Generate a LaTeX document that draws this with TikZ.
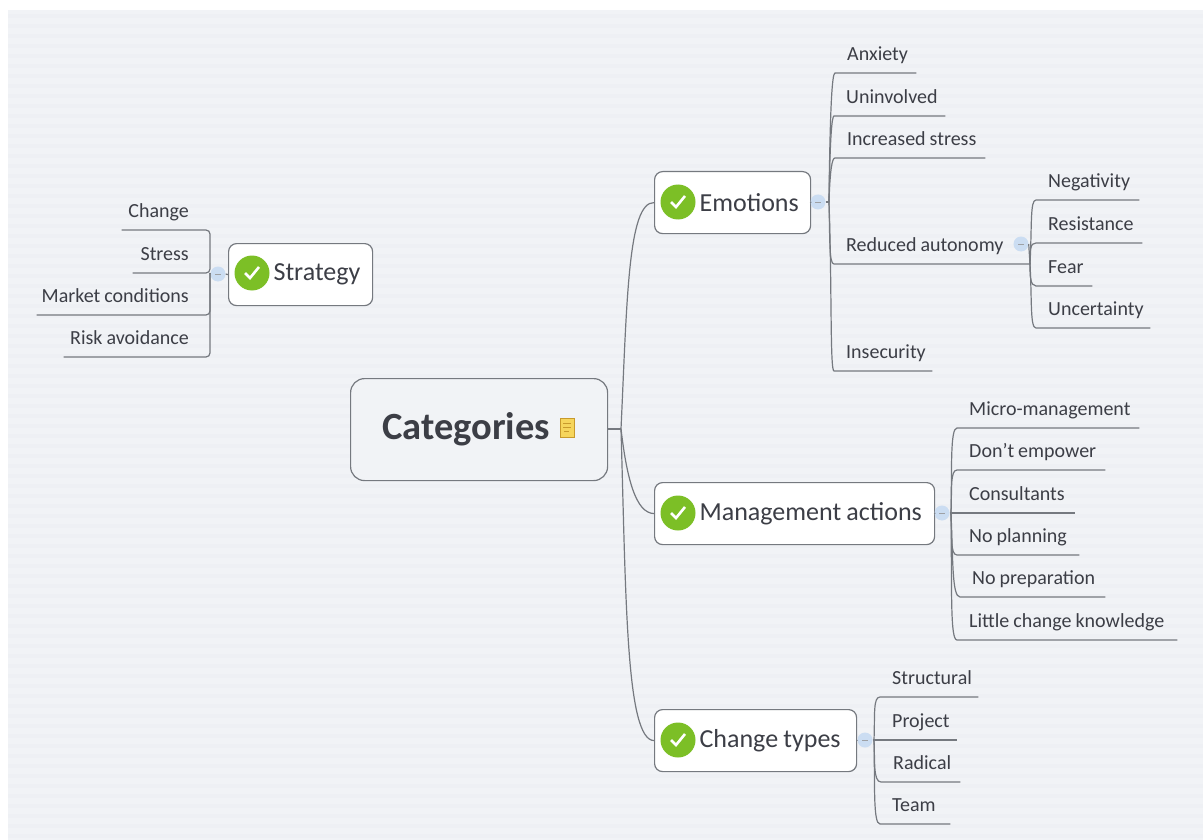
\documentclass[tikz,border=0pt]{standalone}
\usepackage{fontspec}
\setmainfont{Carlito}
\usepackage{xcolor}
\definecolor{backdrop}{HTML}{F1F3F6}
\definecolor{stripe}{HTML}{EEF0F4}
\definecolor{linegray}{HTML}{75797F}
\definecolor{inkgray}{HTML}{3C3E46}
\definecolor{okgreen}{HTML}{7CBF26}
\definecolor{hubblue}{HTML}{CBDDF2}
\definecolor{noteyellow}{HTML}{F6D55C}
\definecolor{noteedge}{HTML}{C89A2C}
\newcommand{\tightwords}{\spaceskip=0.2em\relax\hyphenpenalty=10000\exhyphenpenalty=10000\relax}
\tikzset{
  branch/.style={draw=linegray,line width=1.2pt,rounded corners=0pt},
  rootbox/.style={draw=linegray,line width=1.2pt,rounded corners=14pt,fill=backdrop,minimum width=257pt,minimum height=102pt,inner sep=0pt,anchor=north west},
  topicbox/.style={draw=linegray,line width=1.2pt,rounded corners=8pt,fill=white,minimum height=62pt,text width=#1,inner xsep=0pt,inner ysep=0pt,anchor=north west,align=left,text=inkgray,font=\fontsize{26}{31}\selectfont,execute at begin node=\tightwords\hspace*{45pt}},
  rightleaf/.style={text width=#1,inner xsep=0pt,inner ysep=7pt,text height=14pt,text depth=5pt,anchor=south west,align=left,text=inkgray,font=\fontsize{20}{24}\selectfont,execute at begin node=\tightwords\hspace*{12pt}},
  leftleaf/.style={text width=#1,inner xsep=0pt,inner ysep=7pt,text height=14pt,text depth=5pt,anchor=south east,align=right,text=inkgray,font=\fontsize{20}{24}\selectfont,execute at begin node=\tightwords,execute at end node=\hspace*{21pt}},
  okmark/.style={circle,fill=okgreen,minimum size=35pt,inner sep=0pt,path picture={\draw[white,line width=2.6pt] ([shift={(-7pt,0pt)}]path picture bounding box.center)--([shift={(-2pt,-5pt)}]path picture bounding box.center)--([shift={(7pt,6pt)}]path picture bounding box.center);}},
  hubmark/.style={circle,fill=hubblue,minimum size=15pt,inner sep=0pt,path picture={\draw[linegray!70,line width=0.8pt] ([xshift=-3pt]path picture bounding box.center)--([xshift=3pt]path picture bounding box.center);}},
  notemark/.style={draw=noteedge,fill=noteyellow,line width=1pt,minimum width=14pt,minimum height=19pt,inner sep=0pt,path picture={\draw[noteedge,line width=1pt] ([shift={(-4pt,5pt)}]path picture bounding box.center)--([shift={(4pt,5pt)}]path picture bounding box.center) ([shift={(-4pt,1pt)}]path picture bounding box.center)--([shift={(4pt,1pt)}]path picture bounding box.center) ([shift={(-3pt,-3pt)}]path picture bounding box.center)--([shift={(2pt,-3pt)}]path picture bounding box.center);}}
}
\begin{document}
\begin{tikzpicture}[x=1pt,y=-1pt]
\useasboundingbox (0,0) rectangle (1203,840);
\fill[white] (0,0) rectangle (1203,840);
\fill[backdrop] (8,10) rectangle (1203,840);
\foreach \ypos in {14,24,...,834}
  \fill[stripe] (8,\ypos) rectangle (1203,\ypos+4);
\node[rootbox] (categories) at (350,378) {};
\node[text=inkgray,font=\fontsize{38.5}{46}\selectfont\bfseries] (rootlabel) at (466,429) {Categories};
\node[notemark] (rootnote) at (567,428) {};
\node[topicbox=144pt] (strategy) at (228,243) {Strategy};
\node[topicbox=156pt] (emotions) at (654,171) {Emotions};
\node[topicbox=280pt] (management) at (654,482) {Management actions};
\node[topicbox=202pt] (changetypes) at (654,709) {Change types};
\node[okmark] (strategyok) at (252,273) {};
\node[okmark] (emotionsok) at (678,202) {};
\node[okmark] (managementok) at (678,513) {};
\node[okmark] (changetypesok) at (678,740) {};
\node[hubmark] (strategyhub) at (218,274) {};
\node[hubmark] (emotionshub) at (818,202) {};
\node[hubmark] (autonomyhub) at (1021,244) {};
\node[hubmark] (managementhub) at (942,513) {};
\node[hubmark] (changetypeshub) at (865,740) {};
\coordinate (rootjoin) at (621,429);
\coordinate (strategyjoin) at (210,273);
\coordinate (emotionsjoin) at (829,202);
\coordinate (autonomyjoin) at (1030,264);
\coordinate (managementjoin) at (951,513);
\coordinate (changetypesjoin) at (874,740);
\node[leftleaf=88pt] (change) at (210,230) {Change};
\node[leftleaf=77pt] (stress) at (210,273) {Stress};
\node[leftleaf=173pt] (market) at (210,315) {Market conditions};
\node[leftleaf=146pt] (risk) at (210,357) {Risk avoidance};
\node[rightleaf=81pt] (anxiety) at (835,73) {Anxiety};
\node[rightleaf=111pt] (uninvolved) at (834,116) {Uninvolved};
\node[rightleaf=150pt] (increased) at (835,158) {Increased stress};
\node[rightleaf=196pt] (autonomy) at (834,264) {Reduced autonomy};
\node[rightleaf=98pt] (insecurity) at (834,371) {Insecurity};
\node[rightleaf=103pt] (negativity) at (1036,200) {Negativity};
\node[rightleaf=106pt] (resistance) at (1036,243) {Resistance};
\node[rightleaf=56pt] (fear) at (1036,286) {Fear};
\node[rightleaf=114pt] (uncertainty) at (1036,328) {Uncertainty};
\node[rightleaf=182pt] (micro) at (957,428) {Micro-management};
\node[rightleaf=148pt] (empower) at (957,470) {Don't empower};
\node[rightleaf=118pt] (consultants) at (957,513) {Consultants};
\node[rightleaf=122pt] (planning) at (957,555) {No planning};
\node[rightleaf=145pt] (preparation) at (960,597) {No preparation};
\node[rightleaf=220pt] (knowledge) at (957,640) {Little change knowledge};
\node[rightleaf=98pt] (structural) at (880,697) {Structural};
\node[rightleaf=77pt] (project) at (880,740) {Project};
\node[rightleaf=79pt] (radical) at (881,782) {Radical};
\node[rightleaf=70pt] (team) at (880,824) {Team};
\draw[branch] (categories.east|-rootjoin)--(rootjoin);
\draw[branch] (rootjoin) .. controls (627,300) and (628,202) .. (emotions.west);
\draw[branch] (rootjoin) .. controls (627,480) and (636,513) .. (management.west);
\draw[branch] (rootjoin) .. controls (626,600) and (626,740) .. (changetypes.west);
\draw[branch] (strategy.west)--(strategyhub.east);
\draw[branch] (emotions.east)--(emotionshub.west);
\draw[branch] (management.east)--(managementhub.west);
\draw[branch] (changetypes.east)--(changetypeshub.west);
\draw[branch,rounded corners=4pt] (change.south west)--(change.south east)--(strategyjoin)--(stress.south west);
\draw[branch,rounded corners=4pt] (strategyjoin)--(market.south east)--(market.south west);
\draw[branch,rounded corners=4pt] (strategyjoin)--(risk.south east)--(risk.south west);
\draw[branch] (strategyhub.west)--(strategyjoin);
\draw[branch] (emotionshub.east)--(emotionsjoin);
\draw[branch] (emotionsjoin) .. controls (830,110) and (832,73) .. (anxiety.south west)--(anxiety.south east);
\draw[branch] (emotionsjoin) .. controls (830,135) and (832,116) .. (uninvolved.south west)--(uninvolved.south east);
\draw[branch] (emotionsjoin) .. controls (830,170) and (832,158) .. (increased.south west)--(increased.south east);
\draw[branch] (emotionsjoin) .. controls (830,240) and (829,264) .. (autonomy.south west)--(autonomy.south east);
\draw[branch] (emotionsjoin) .. controls (832,290) and (830,371) .. (insecurity.south west)--(insecurity.south east);
\draw[branch] (autonomyhub.east)--(autonomyjoin);
\draw[branch] (autonomyjoin) .. controls (1032,225) and (1030,200) .. (negativity.south west)--(negativity.south east);
\draw[branch] (autonomyjoin) .. controls (1030,250) and (1030,243) .. (resistance.south west)--(resistance.south east);
\draw[branch] (autonomyjoin) .. controls (1030,275) and (1030,286) .. (fear.south west)--(fear.south east);
\draw[branch] (autonomyjoin) .. controls (1032,300) and (1030,328) .. (uncertainty.south west)--(uncertainty.south east);
\draw[branch] (managementhub.east)--(managementjoin);
\draw[branch] (managementjoin) .. controls (952,470) and (950,428) .. (micro.south west)--(micro.south east);
\draw[branch] (managementjoin) .. controls (952,490) and (950,470) .. (empower.south west)--(empower.south east);
\draw[branch] (managementjoin)--(consultants.south west)--(consultants.south east);
\draw[branch] (managementjoin) .. controls (952,535) and (950,555) .. (planning.south west)--(planning.south east);
\draw[branch] (managementjoin) .. controls (953,560) and (952,597) .. (preparation.south west)--(preparation.south east);
\draw[branch] (managementjoin) .. controls (952,590) and (950,640) .. (knowledge.south west)--(knowledge.south east);
\draw[branch] (changetypeshub.east)--(changetypesjoin);
\draw[branch] (changetypesjoin) .. controls (875,715) and (873,697) .. (structural.south west)--(structural.south east);
\draw[branch] (changetypesjoin)--(project.south west)--(project.south east);
\draw[branch] (changetypesjoin) .. controls (875,760) and (873,782) .. (radical.south west)--(radical.south east);
\draw[branch] (changetypesjoin) .. controls (875,785) and (873,824) .. (team.south west)--(team.south east);
\end{tikzpicture}
\end{document}
